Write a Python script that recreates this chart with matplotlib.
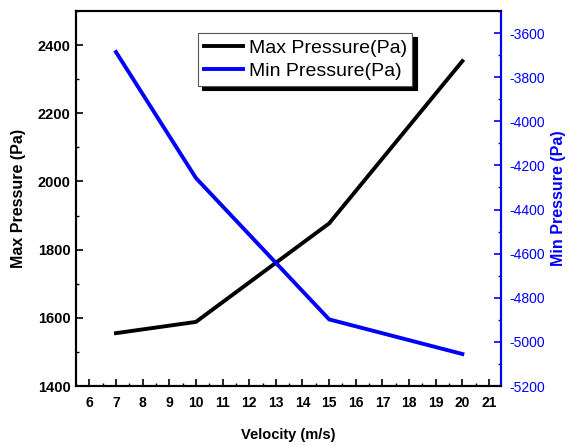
import matplotlib
matplotlib.use("Agg")
import matplotlib.pyplot as plt
from matplotlib.ticker import MultipleLocator

plt.rcParams['font.family'] = ['Liberation Sans', 'DejaVu Sans']
plt.rcParams['axes.unicode_minus'] = False

# Data
velocity = [7, 10, 15, 20]
max_pressure = [1555, 1588, 1877, 2353]
min_pressure = [-3686, -4257, -4898, -5055]

x_ticks = list(range(6, 22))
left_ticks = [1400, 1600, 1800, 2000, 2200, 2400]
right_ticks = [-5200, -5000, -4800, -4600, -4400, -4200, -4000, -3800, -3600]

fig = plt.figure(figsize=(5.73, 4.45), dpi=100)
fig.subplots_adjust(left=76/573, right=501/573, bottom=(445-386)/445, top=(445-11)/445)
ax = fig.add_subplot(111)
ax2 = ax.twinx()

l1, = ax.plot(velocity, max_pressure, color='black', lw=2.8, solid_joinstyle='round',
              label='Max Pressure(Pa)')
l2, = ax2.plot(velocity, min_pressure, color='blue', lw=2.8, solid_joinstyle='round',
               label='Min Pressure(Pa)')

ax.set_xlim(5.5, 21.45)
ax.set_ylim(1400, 2500)
ax2.set_ylim(-5200, -3500)

ax.set_xticks(x_ticks)
ax.xaxis.set_minor_locator(MultipleLocator(0.5))
ax.set_yticks(left_ticks)
ax.yaxis.set_minor_locator(MultipleLocator(100))
ax2.set_yticks(right_ticks)
ax2.yaxis.set_minor_locator(MultipleLocator(100))

for a in (ax, ax2):
    for s in a.spines.values():
        s.set_linewidth(1.5)

ax.tick_params(axis='x', which='major', direction='in', length=5, width=1.2,
               top=False, labelsize=10, pad=7)
ax.tick_params(axis='x', which='minor', direction='in', length=2.5, width=1.0, top=False)
ax.tick_params(axis='y', which='major', direction='in', length=5, width=1.2,
               right=False, labelsize=10.5, pad=4)
ax.tick_params(axis='y', which='minor', direction='in', length=2.5, width=1.0, right=False)
for lab in ax.get_xticklabels() + ax.get_yticklabels():
    lab.set_fontweight('bold')

ax2.spines['right'].set_color('blue')
ax2.tick_params(axis='y', which='major', direction='in', length=5, width=1.2,
                colors='blue', labelsize=10, pad=6)
ax2.tick_params(axis='y', which='minor', direction='in', length=2.5, width=1.0, colors='blue')

ax.set_xlabel('Velocity (m/s)', fontsize=10.5, fontweight='bold', labelpad=13)
ax.set_ylabel('Max Pressure (Pa)', fontsize=11.5, fontweight='bold', labelpad=8)
ax2.set_ylabel('Min Pressure (Pa)', fontsize=11.5, fontweight='bold', color='blue', labelpad=4)

leg = ax2.legend(handles=[l1, l2], loc='upper left', bbox_to_anchor=(0.287, 0.941),
                 borderaxespad=0, fontsize=14, frameon=True, fancybox=False,
                 shadow={'color': 'black', 'alpha': 1, 'ox': 3, 'oy': -3},
                 handlelength=2.0, handletextpad=0.3, borderpad=0.3, labelspacing=0.3)
leg.get_frame().set_edgecolor('#555555')
leg.get_frame().set_linewidth(0.8)
leg.get_frame().set_alpha(1)

fig.savefig('out.png', dpi=100)
